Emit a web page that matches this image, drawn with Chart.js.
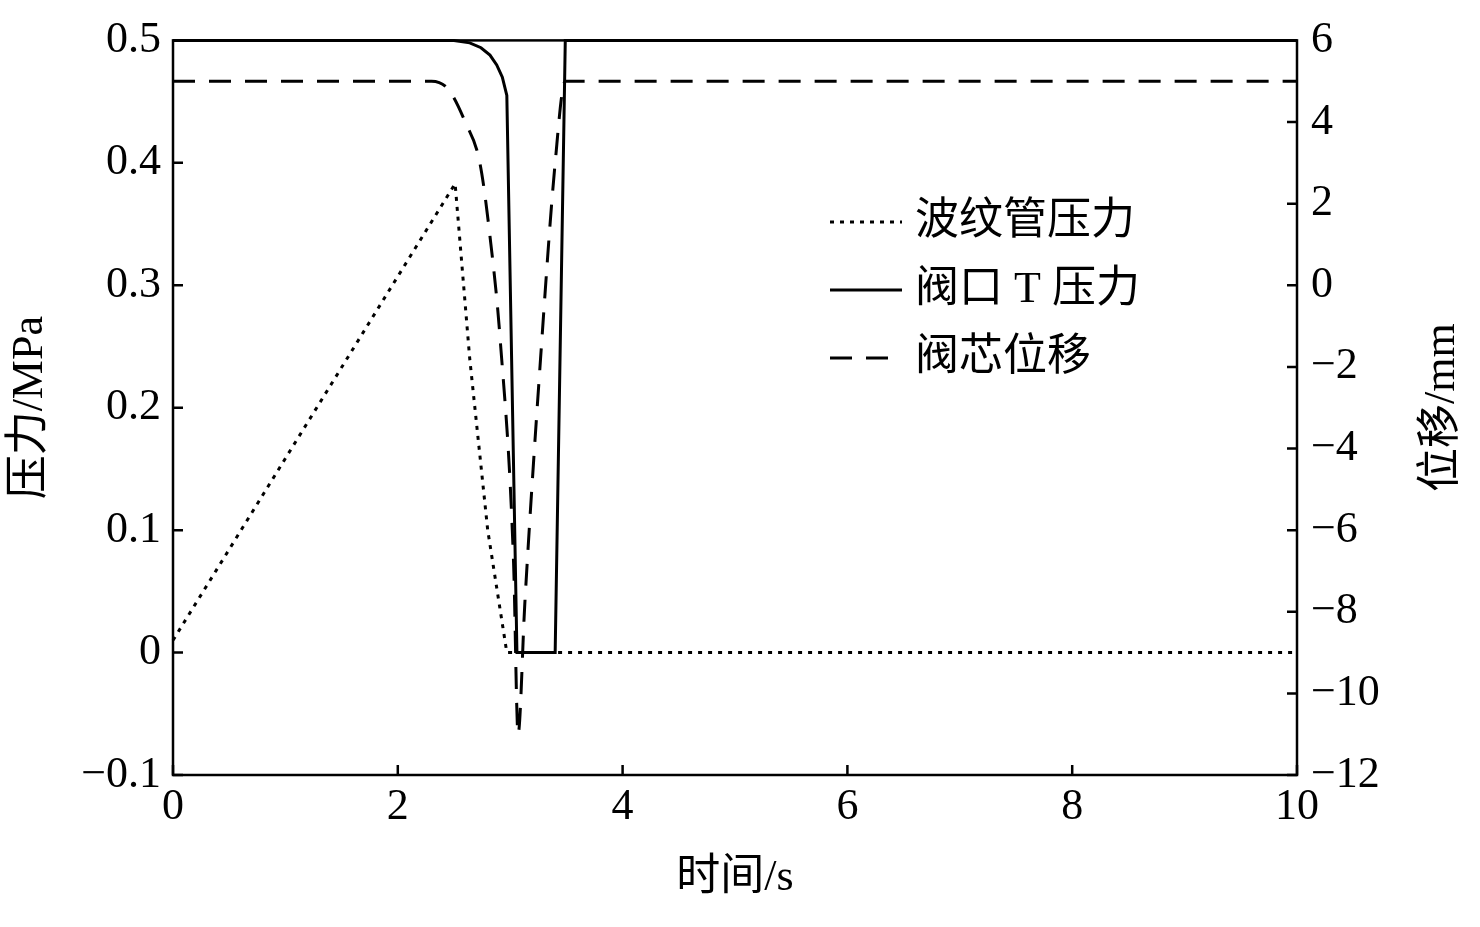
<!DOCTYPE html>
<html><head><meta charset="utf-8">
<script src="https://cdn.jsdelivr.net/npm/chart.js@4/dist/chart.umd.min.js"></script>
<style>body{margin:0;background:#fff}</style>
</head><body>
<canvas id="c" width="1480" height="927"></canvas>
<script>
// time (s) / value pairs
const bellowsT = [0, 2.51, 2.64, 2.80, 2.97, 10];
const bellowsP = [0.01, 0.383, 0.24, 0.10, 0, 0];
const portT = [0, 2.3, 2.5, 2.64, 2.74, 2.82, 2.88, 2.93, 2.97, 3.06, 3.40, 3.49, 10];
const portP = [0.5, 0.5, 0.5, 0.498, 0.494, 0.488, 0.48, 0.47, 0.455, 0, 0, 0.5, 0.5];
const spoolT = [0, 2.3, 2.45, 2.6, 2.73, 2.82, 2.91, 3.03, 3.07, 3.13, 3.27, 3.40, 3.49, 10];
const spoolX = [5, 5, 4.8, 4.0, 3.0, 1.2, -1.3, -6.8, -11.0, -7.8, -1.8, 3.0, 5, 5];
const labels = ['波纹管压力', '阀口 T 压力', '阀芯位移'];
const dashes = [[4, 6], [], [22, 14]];

const pts = (t, v) => t.map((x, i) => ({x: x, y: v[i]}));
const serif = '"Liberation Serif", "Noto Sans CJK SC", serif';
const FS = 44;
const minus = v => String(v).replace('-', '\u2212');

const inwardTicks = {
  id: 'inwardTicks',
  afterDraw(chart) {
    const ctx = chart.ctx, a = chart.chartArea;
    ctx.save();
    ctx.strokeStyle = '#000'; ctx.lineWidth = 2.5;
    ctx.strokeRect(a.left, a.top, a.right - a.left, a.bottom - a.top);
    ctx.beginPath();
    chart.scales.x.ticks.forEach(t => { const p = chart.scales.x.getPixelForValue(t.value); ctx.moveTo(p, a.bottom); ctx.lineTo(p, a.bottom - 10); });
    chart.scales.y.ticks.forEach(t => { const p = chart.scales.y.getPixelForValue(t.value); ctx.moveTo(a.left, p); ctx.lineTo(a.left + 10, p); });
    chart.scales.y1.ticks.forEach(t => { const p = chart.scales.y1.getPixelForValue(t.value); ctx.moveTo(a.right, p); ctx.lineTo(a.right - 10, p); });
    ctx.stroke();
    ctx.font = FS + 'px ' + serif; ctx.fillStyle = '#000'; ctx.textBaseline = 'middle';
    // right axis title, reading bottom to top
    ctx.save();
    ctx.translate(1442, (a.top + a.bottom) / 2);
    ctx.rotate(-Math.PI / 2);
    ctx.textAlign = 'center';
    ctx.fillText('位移/mm', 0, 0);
    ctx.restore();
    // legend
    labels.forEach((s, i) => {
      const y = 222 + i * 68;
      ctx.setLineDash(dashes[i]); ctx.lineWidth = 3;
      ctx.beginPath(); ctx.moveTo(830, y); ctx.lineTo(902, y); ctx.stroke();
      ctx.setLineDash([]);
      ctx.fillText(s, 915, y);
    });
    ctx.restore();
  }
};

const ds = (t, v, dash, axis, smooth) => ({
  data: pts(t, v), yAxisID: axis, borderColor: '#000', borderWidth: 3, clip: false,
  borderDash: dash, pointRadius: 0, fill: false,
  tension: smooth ? 0.3 : 0, cubicInterpolationMode: smooth ? 'monotone' : 'default'
});

new Chart(document.getElementById('c'), {
  type: 'line',
  data: { datasets: [
    ds(bellowsT, bellowsP, dashes[0], 'y', false),
    ds(portT, portP, dashes[1], 'y', false),
    ds(spoolT, spoolX, dashes[2], 'y1', true)
  ]},
  options: {
    responsive: false, animation: false,
    layout: { padding: { top: 27, bottom: 22 } },
    plugins: { legend: { display: false }, tooltip: { enabled: false } },
    scales: {
      x: {
        type: 'linear', min: 0, max: 10,
        ticks: { stepSize: 2, color: '#000', font: { family: serif, size: FS }, padding: 6 },
        grid: { drawOnChartArea: false, drawTicks: false }, border: { display: false },
        title: { display: true, text: '时间/s', color: '#000', font: { family: serif, size: FS }, padding: 0 },
        afterFit: s => { s.height = 130; }
      },
      y: {
        min: -0.1, max: 0.5,
        ticks: { stepSize: 0.1, color: '#000', font: { family: serif, size: FS }, padding: 12,
          callback: v => minus(Math.round(v * 10) / 10) },
        grid: { drawOnChartArea: false, drawTicks: false }, border: { display: false },
        title: { display: true, text: '压力/MPa', color: '#000', font: { family: serif, size: FS } },
        afterFit: s => { s.width = 173; }
      },
      y1: {
        position: 'right', min: -12, max: 6,
        ticks: { stepSize: 2, color: '#000', font: { family: serif, size: FS }, padding: 14,
          callback: v => minus(v) },
        grid: { drawOnChartArea: false, drawTicks: false }, border: { display: false },
        afterFit: s => { s.width = 183; }
      }
    }
  },
  plugins: [inwardTicks]
});
</script>
</body></html>
